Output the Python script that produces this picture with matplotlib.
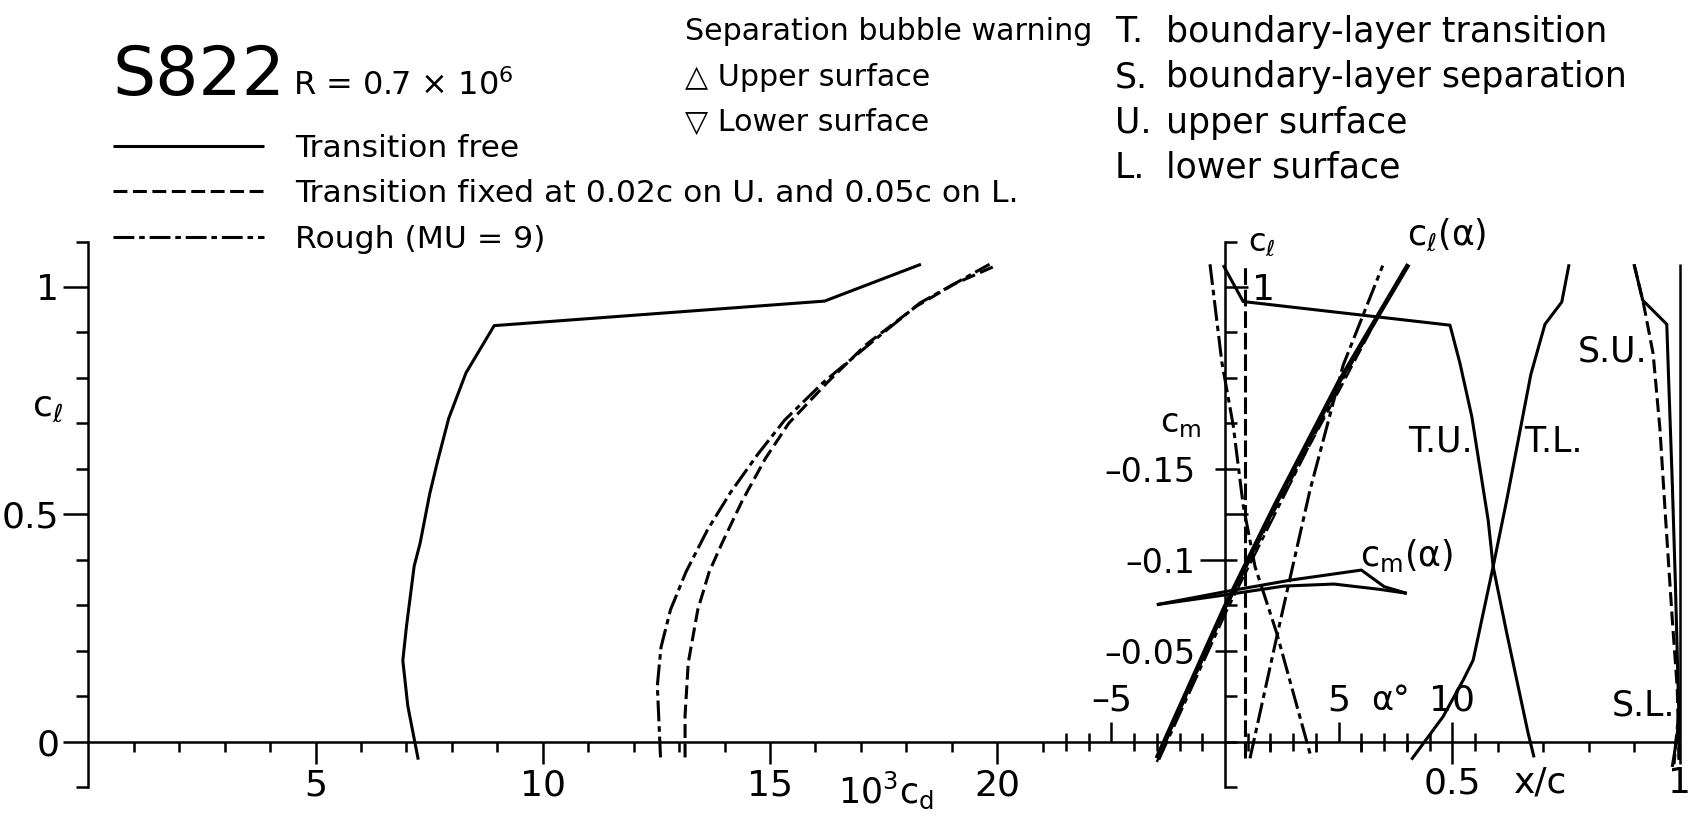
import numpy as np
import matplotlib
matplotlib.use("Agg")
import matplotlib.pyplot as plt
from matplotlib.ticker import FixedLocator, FixedFormatter, NullFormatter

plt.rcParams['font.family'] = ['DejaVu Sans']
plt.rcParams['mathtext.default'] = 'regular'
plt.rcParams['lines.scale_dashes'] = False
plt.rcParams['lines.solid_capstyle'] = 'butt'
plt.rcParams['lines.dash_capstyle'] = 'butt'

# ---------------- values ----------------
# drag polar: 10^3 cd against cl
cd_free = [7.26, 7.03, 6.92, 7.00, 7.17, 7.30, 7.51, 7.68, 7.93, 8.31, 8.93, 16.2, 18.32]
cl_free = [-0.04, 0.078, 0.178, 0.253, 0.386, 0.436, 0.544, 0.615, 0.711, 0.811, 0.915, 0.969, 1.05]
cd_fixed = [13.13, 13.13, 13.2, 13.41, 13.66, 13.96, 14.39, 14.9, 15.41, 16.26, 17.11, 18.21, 19.06, 19.9]
cl_fixed = [-0.035, 0.057, 0.173, 0.29, 0.373, 0.44, 0.53, 0.623, 0.70, 0.79, 0.873, 0.957, 1.007, 1.044]
cd_rough = [12.59, 12.52, 12.6, 12.81, 13.15, 13.62, 14.13, 14.73, 15.32, 16.17, 17.28, 18.3, 19.83]
cl_rough = [-0.035, 0.123, 0.207, 0.29, 0.373, 0.465, 0.548, 0.632, 0.707, 0.79, 0.882, 0.965, 1.05]

# lift curves cl(alpha)
alpha_cl_free = [-3.0, 0.0, 2.2, 5.0, 8.07]
cl_alpha_free = [-0.037, 0.297, 0.52, 0.79, 1.05]
alpha_cl_fixed = [-3.0, 0.0, 2.2, 5.0, 6.97]
cl_alpha_fixed = [-0.045, 0.29, 0.51, 0.77, 0.957]
alpha_cl_rough = [-2.9, 0.1, 2.4, 5.0, 7.9]
cl_alpha_rough = [-0.04, 0.29, 0.52, 0.78, 1.04]

# moment curves cm(alpha)
alpha_cm_a = [-3.0, 0.0, 2.9, 6.0, 7.0, 8.0]
cm_a = [-0.0753, -0.0824, -0.0888, -0.0943, -0.0852, -0.0815]
alpha_cm_b = [-3.0, 0.0, 2.6, 4.8, 6.8, 8.0]
cm_b = [-0.0753, -0.0806, -0.0855, -0.0866, -0.0837, -0.0815]

# transition and separation locations, x/c against cl
xc_tu = [-0.004, 0.040, 0.495, 0.517, 0.543, 0.579, 0.590, 0.620, 0.667, 0.680]
cl_tu = [1.048, 0.968, 0.916, 0.832, 0.715, 0.487, 0.385, 0.238, 0.018, -0.035]
xc_tl = [0.41, 0.48, 0.524, 0.546, 0.59, 0.62, 0.673, 0.704, 0.741, 0.757]
cl_tl = [-0.04, 0.055, 0.135, 0.179, 0.385, 0.532, 0.808, 0.918, 0.967, 1.05]
xc_trip = [0.045, 0.045]
cl_trip = [-0.037, 1.052]
xc_tu_rough = [-0.033, -0.007, 0.018, 0.040, 0.066, 0.114, 0.190]
cl_tu_rough = [1.05, 0.835, 0.696, 0.52, 0.385, 0.238, -0.037]
xc_tl_rough = [0.055, 0.114, 0.187, 0.260, 0.347]
cl_tl_rough = [-0.037, 0.231, 0.553, 0.828, 1.047]
xc_su = [0.90, 0.919, 0.972, 0.976, 0.984, 0.991, 0.999, 0.999]
cl_su = [1.05, 0.971, 0.918, 0.80, 0.573, 0.346, 0.043, -0.04]
xc_su_fixed = [0.90, 0.919, 0.923, 0.942, 0.957, 0.969, 0.984, 0.995, 0.999]
cl_su_fixed = [1.05, 0.971, 0.952, 0.853, 0.687, 0.497, 0.27, 0.118, -0.04]
xc_sl = [0.984, 0.993, 1.0]
cl_sl = [-0.056, 0.0, 0.058]
xc_sl_fixed = [0.998, 0.992, 0.988]
cl_sl_fixed = [0.058, 0.0, -0.05]

# ---------------- layout (pixels of the 1690x825 picture) ----------------
W, H = 1690, 825
X_CL = 88.3    # column of the cl axis (cd = 0)
X_CM = 1225.0  # column of the cm axis (alpha = 0, x/c = 0)
Y0 = 741.5     # row of cl = 0
S = 454.5      # pixels per unit cl and x/c

LW_AX = 1.8
LW = 2.2
DASH = (10, 4)
DASHDOT = (15, 3.5, 4, 3.5)
TICK_FS = 26

fig = plt.figure(figsize=(W / 100, H / 100), dpi=100)


def overlay(x_origin, px_per_unit, y_scale=1.0):
    ax = fig.add_axes([0, 0, 1, 1])
    ax.patch.set_alpha(0)
    ax.set_xlim(-x_origin / px_per_unit, (W - x_origin) / px_per_unit)
    ax.set_ylim(-(H - Y0) / S * y_scale, Y0 / S * y_scale)
    for sp in ax.spines.values():
        sp.set_visible(False)
    ax.set_xticks([])
    ax.set_yticks([])
    return ax


def label(x, y, s, size=25, **kw):
    kw.setdefault('ha', 'center')
    kw.setdefault('va', 'center')
    fig.text(x / W, 1 - y / H, s, fontsize=size, **kw)


cl_minor = np.round(np.arange(-0.1, 1.11, 0.1), 2)

# ---- drag polar axes ----
ax_pol = overlay(X_CL, S / 10)
sp = ax_pol.spines['left']
sp.set_visible(True)
sp.set_position(('data', 0))
sp.set_bounds(-0.1, 1.1)
sp.set_linewidth(LW_AX)
sp = ax_pol.spines['bottom']
sp.set_visible(True)
sp.set_position(('data', 0))
sp.set_bounds(0, (X_CM + S - X_CL) / (S / 10))
sp.set_linewidth(LW_AX)
ax_pol.yaxis.set_ticks_position('left')
ax_pol.yaxis.set_major_locator(FixedLocator([0, 0.5, 1]))
ax_pol.yaxis.set_major_formatter(FixedFormatter(['0', '0.5', '1']))
ax_pol.yaxis.set_minor_locator(FixedLocator(cl_minor))
ax_pol.yaxis.set_minor_formatter(NullFormatter())
ax_pol.xaxis.set_ticks_position('bottom')
ax_pol.xaxis.set_major_locator(FixedLocator([5, 10, 15, 20]))
ax_pol.xaxis.set_major_formatter(FixedFormatter(['5', '10', '15', '20']))
ax_pol.xaxis.set_minor_locator(FixedLocator(range(1, 22)))
ax_pol.xaxis.set_minor_formatter(NullFormatter())
ax_pol.tick_params(axis='y', which='major', direction='out', length=18, width=LW_AX, labelsize=TICK_FS, pad=3)
ax_pol.tick_params(axis='y', which='minor', direction='out', length=8.3, width=LW_AX)
ax_pol.tick_params(axis='x', which='major', direction='out', length=15.8, width=LW_AX, labelsize=TICK_FS, pad=4)
ax_pol.tick_params(axis='x', which='minor', direction='out', length=7.2, width=LW_AX)

ax_pol.plot(cd_free, cl_free, color='k', lw=LW, label='Transition free')
ax_pol.plot(cd_fixed, cl_fixed, color='k', lw=LW, dashes=DASH,
            label='Transition fixed at 0.02c on U. and 0.05c on L.')
ax_pol.plot(cd_rough, cl_rough, color='k', lw=LW, dashes=DASHDOT, label='Rough (MU = 9)')

# ---- lift curve axes (alpha, cl) ----
ax_a = overlay(X_CM, S / 20)
sp = ax_a.spines['right']
sp.set_visible(True)
sp.set_position(('data', 0))
sp.set_bounds(-0.1, 1.1)
sp.set_linewidth(LW_AX)
sp = ax_a.spines['top']
sp.set_visible(True)
sp.set_color('none')
sp.set_position(('data', 0))
ax_a.yaxis.set_ticks_position('right')
ax_a.yaxis.set_major_locator(FixedLocator([0.5, 1]))
ax_a.yaxis.set_major_formatter(FixedFormatter(['', '1']))
ax_a.yaxis.set_minor_locator(FixedLocator(cl_minor))
ax_a.yaxis.set_minor_formatter(NullFormatter())
ax_a.xaxis.set_ticks_position('top')
ax_a.xaxis.set_major_locator(FixedLocator([-5, 5, 10]))
ax_a.xaxis.set_major_formatter(FixedFormatter(['\u20135', '5', '10']))
ax_a.xaxis.set_minor_locator(FixedLocator([a for a in range(-7, 12) if a != 0]))
ax_a.xaxis.set_minor_formatter(NullFormatter())
ax_a.tick_params(axis='y', which='major', direction='out', length=16.5, width=LW_AX, labelsize=TICK_FS, pad=3)
ax_a.tick_params(axis='y', which='minor', direction='out', length=8.6, width=LW_AX)
ax_a.tick_params(axis='x', which='major', direction='out', length=14.4, width=LW_AX, labelsize=TICK_FS, pad=3)
ax_a.tick_params(axis='x', which='minor', direction='inout', length=13, width=LW_AX)

ax_a.plot(alpha_cl_free, cl_alpha_free, color='k', lw=3.4)
ax_a.plot(alpha_cl_fixed, cl_alpha_fixed, color='k', lw=1.7, dashes=DASH)
ax_a.plot(alpha_cl_rough, cl_alpha_rough, color='k', lw=1.7, dashes=DASHDOT)

# ---- moment axes (alpha, cm) ----
ax_cm = overlay(X_CM, S / 20, y_scale=-0.25)
sp = ax_cm.spines['left']
sp.set_visible(True)
sp.set_color('none')
sp.set_position(('data', 0))
ax_cm.yaxis.set_ticks_position('left')
# -0.1 has a long tick, -0.05 and -0.15 short ones; all labels end at the same column
ax_cm.yaxis.set_major_locator(FixedLocator([-0.1]))
ax_cm.yaxis.set_major_formatter(FixedFormatter(['\u20130.1']))
ax_cm.yaxis.set_minor_locator(FixedLocator([-0.05, -0.15]))
ax_cm.yaxis.set_minor_formatter(FixedFormatter(['\u20130.05', '\u20130.15']))
ax_cm.tick_params(axis='y', which='major', direction='out', length=18, width=LW_AX, labelsize=24, pad=3.5)
ax_cm.tick_params(axis='y', which='minor', direction='out', length=7, width=LW_AX, labelsize=24, pad=14.5)

ax_cm.plot(alpha_cm_a, cm_a, color='k', lw=LW)
ax_cm.plot(alpha_cm_b, cm_b, color='k', lw=LW)

# ---- transition / separation axes (x/c, cl) ----
ax_xc = overlay(X_CM, S)
sp = ax_xc.spines['bottom']
sp.set_visible(True)
sp.set_color('none')
sp.set_position(('data', 0))
ax_xc.xaxis.set_ticks_position('bottom')
ax_xc.xaxis.set_major_locator(FixedLocator([0.5, 1.0]))
ax_xc.xaxis.set_major_formatter(FixedFormatter(['0.5', '1']))
ax_xc.xaxis.set_minor_locator(FixedLocator(np.round(np.arange(0.1, 0.95, 0.1), 2)))
ax_xc.xaxis.set_minor_formatter(NullFormatter())
ax_xc.tick_params(axis='x', which='major', direction='out', length=15.8, width=LW_AX, labelsize=TICK_FS, pad=2)
ax_xc.tick_params(axis='x', which='minor', direction='out', length=7.2, width=LW_AX)
ax_xc.vlines(1.0, 0.0, 1.05, color='k', lw=LW_AX)

ax_xc.plot(xc_tu, cl_tu, color='k', lw=LW)
ax_xc.plot(xc_tl, cl_tl, color='k', lw=LW)
ax_xc.plot(xc_trip, cl_trip, color='k', lw=LW, dashes=(12, 3.5))
ax_xc.plot(xc_tu_rough, cl_tu_rough, color='k', lw=LW, dashes=DASHDOT)
ax_xc.plot(xc_tl_rough, cl_tl_rough, color='k', lw=LW, dashes=DASHDOT)
ax_xc.plot(xc_su, cl_su, color='k', lw=LW)
ax_xc.plot(xc_su_fixed, cl_su_fixed, color='k', lw=LW, dashes=DASH)
ax_xc.plot(xc_sl, cl_sl, color='k', lw=LW)
ax_xc.plot(xc_sl_fixed, cl_sl_fixed, color='k', lw=LW, dashes=DASH)

# ---- legend and headings ----
fig.text(113 / W, 1 - 95 / H, 'S822', fontsize=49, ha='left', va='baseline')
fig.text(293 / W, 1 - 95 / H, r'R = 0.7 × $10^6$', fontsize=23, ha='left', va='baseline')

ax_pol.legend(loc='upper left', bbox_to_anchor=(113 / W, 1 - 134 / H), bbox_transform=fig.transFigure,
              frameon=False, fontsize=22.6, handlelength=4.8, handletextpad=1.0, labelspacing=0.52,
              borderpad=0, borderaxespad=0)

label(685, 32, 'Separation bubble warning', size=21.7, ha='left')
label(685, 77, '\u25b3 Upper surface', size=21.7, ha='left')
label(685, 122, '\u25bd Lower surface', size=21.7, ha='left')

for row, (key, text) in enumerate([('T.', 'boundary-layer transition'),
                                   ('S.', 'boundary-layer separation'),
                                   ('U.', 'upper surface'),
                                   ('L.', 'lower surface')]):
    label(1115, 32 + 45.3 * row, key, size=25, ha='left')
    label(1166, 32 + 45.3 * row, text, size=25, ha='left')

# ---- axis names and curve labels ----
label(48, 407, r'$c_\ell$', size=26)
label(886, 790, r'$10^3c_d$', size=25)
label(1390, 700, '\u03b1\u00b0', size=24)
label(1262, 243, r'$c_\ell$', size=23)
label(1181, 423, r'$c_m$', size=24)
label(1447, 235, r'$c_\ell(\alpha)$', size=25)
label(1407, 556, r'$c_m(\alpha)$', size=25)
label(1541, 782, 'x/c', size=26)
label(1440, 441, 'T.U.', size=25)
label(1553, 442, 'T.L.', size=25)
label(1613, 351, 'S.U.', size=25)
label(1644, 705, 'S.L.', size=25)

fig.savefig('out.png', dpi=100, facecolor='white')
